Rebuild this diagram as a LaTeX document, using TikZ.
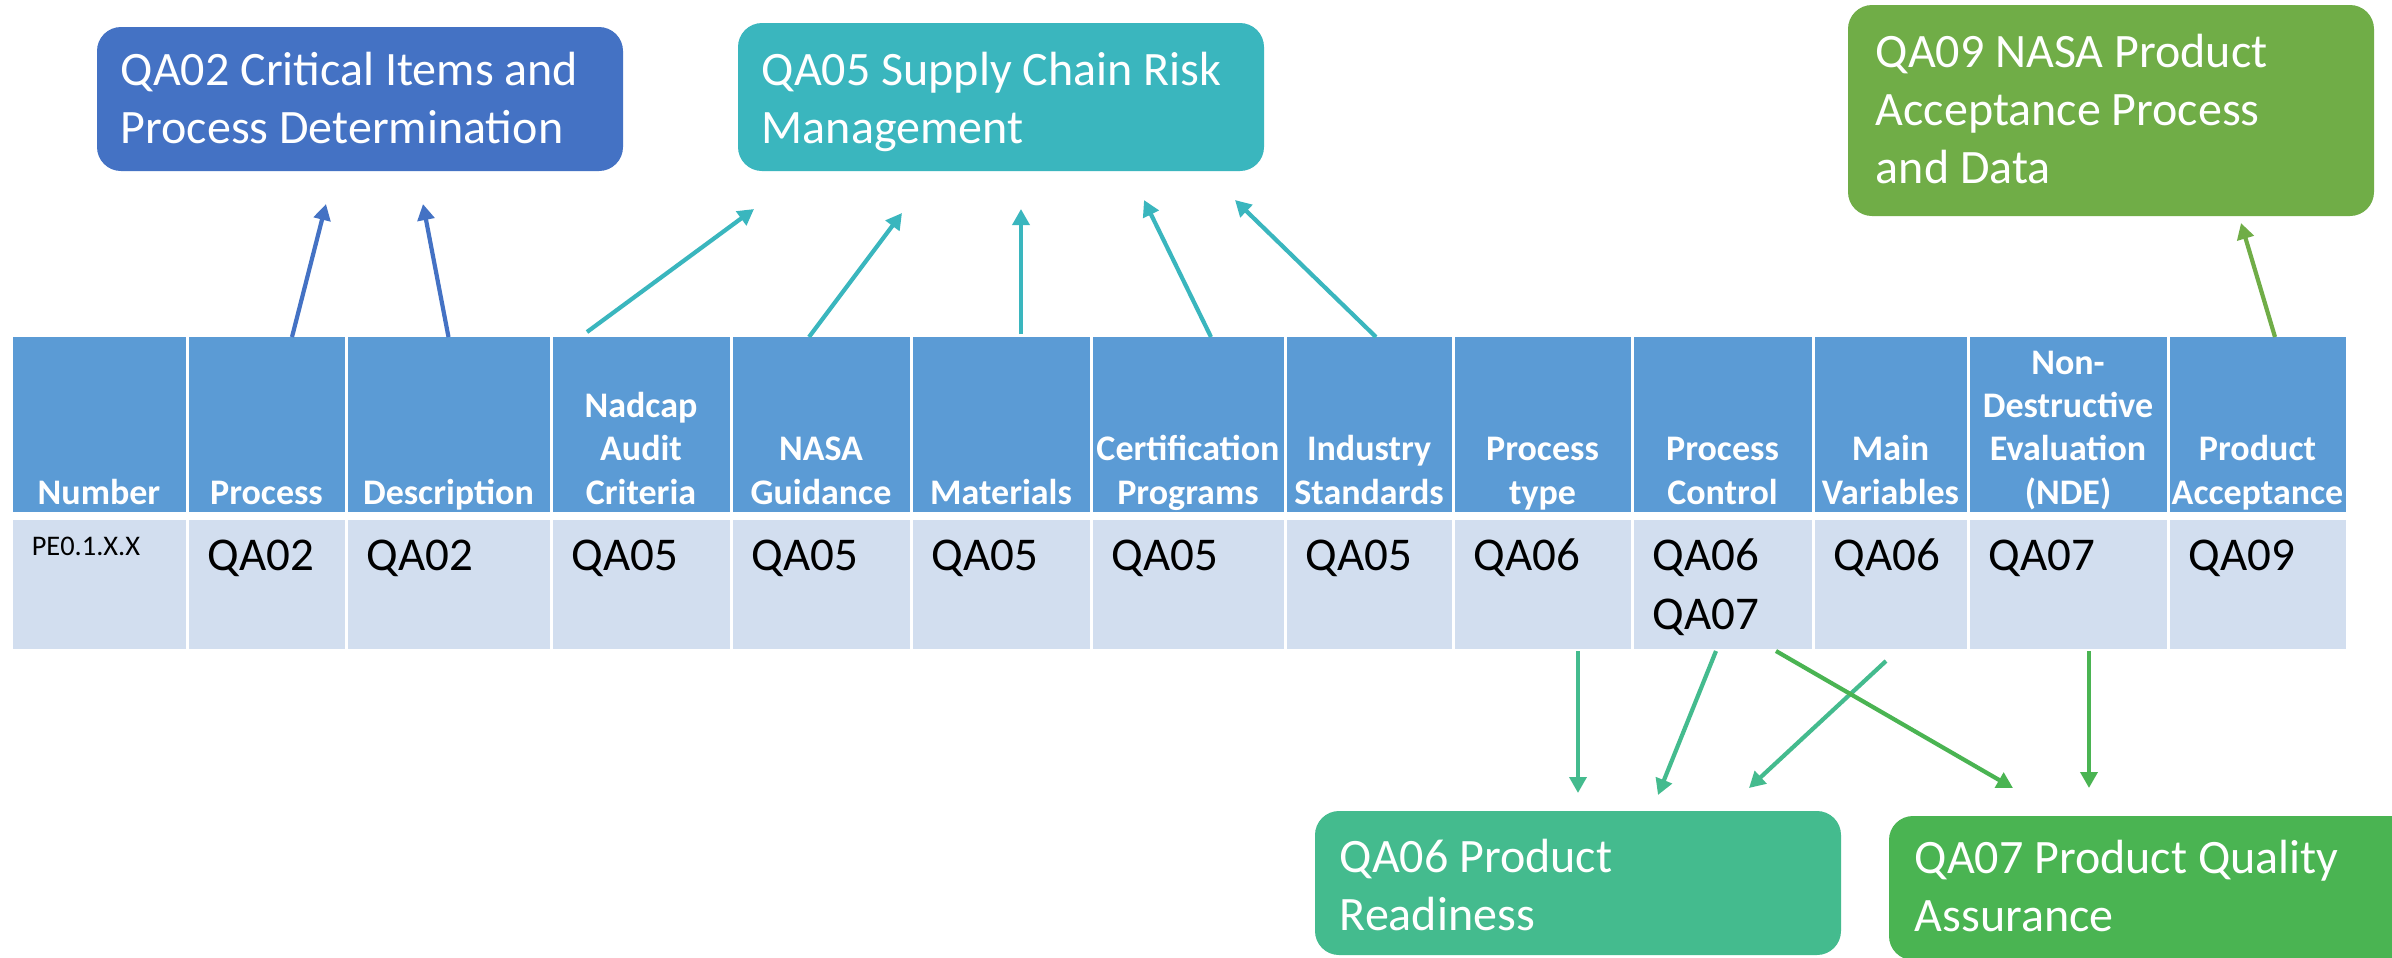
\documentclass[tikz,border=0pt]{standalone}
\usepackage{fontspec}
\setmainfont{Carlito}
\usetikzlibrary{arrows.meta,calc}
\definecolor{hdr}{HTML}{5B9BD5}
\definecolor{rowc}{HTML}{D2DEEF}
\definecolor{qatwo}{HTML}{4472C4}
\definecolor{qafive}{HTML}{3AB6BE}
\definecolor{qanine}{HTML}{70AD47}
\definecolor{qasix}{HTML}{44BB8E}
\definecolor{qaseven}{HTML}{4AB452}
\tikzset{
  hcell/.style={fill=hdr, inner sep=0pt, outer sep=0pt, anchor=north west, minimum height=175*0.25pt},
  rcell/.style={fill=rowc, inner sep=0pt, outer sep=0pt, anchor=north west, minimum height=129*0.25pt},
  htxt/.style={text=white, font=\bfseries\fontsize{9}{10.83}\selectfont, align=center, anchor=south, inner sep=0pt, execute at end node=\strut},
  dtxt/.style={text=black, font=\fontsize{11.75}{14.6}\selectfont, align=left, anchor=north west, inner sep=0pt},
  qbox/.style={rounded corners=6pt, inner sep=0pt, outer sep=0pt, anchor=north west, minimum width=526*0.25pt},
  btxt/.style={text=white, font=\fontsize{12}{14.5}\selectfont, align=left, anchor=north west, inner sep=0pt},
  conn/.style={line width=1.05pt, -{Triangle[length=4pt,width=4.2pt]}}
}
\newcommand\tblcol[5]{%
  \node[hcell, minimum width={(#3-#2-3)*0.25pt}] (h#1) at (#2+1.5,337) {};
  \node[rcell, minimum width={(#3-#2-3)*0.25pt}] (r#1) at (#2+1.5,520) {};
  \node[htxt] (ht#1) at ({(#2+#3)/2},518) {#4};
  \node[dtxt] (dt#1) at (#2+20,529.1) {\strut #5};
}
\begin{document}
\begin{tikzpicture}[x=0.25pt,y=-0.25pt]
\useasboundingbox (0,0) rectangle (2392,957);
\clip (0,0) rectangle (2392,957);
\fill[white] (0,0) rectangle (2392,957);
% table
\tblcol{1}{11}{187}{Number}{}
\tblcol{2}{187}{346}{Process}{QA02}
\tblcol{3}{346}{551}{Description}{QA02}
\tblcol{4}{551}{731}{Nadcap\\Audit\\Criteria}{QA05}
\tblcol{5}{731}{911}{NASA\\Guidance}{QA05}
\tblcol{6}{911}{1091}{Materials}{QA05}
\tblcol{7}{1091}{1285}{Certification\\Programs}{QA05}
\tblcol{8}{1285}{1453}{Industry\\Standards}{QA05}
\tblcol{9}{1453}{1632}{Process\\type}{QA06}
\tblcol{10}{1632}{1813}{Process\\Control}{QA06\\QA07}
\tblcol{11}{1813}{1968}{Main\\Variables}{QA06}
\tblcol{12}{1968}{2168}{Non-\\Destructive\\Evaluation\\(NDE)}{QA07}
\tblcol{13}{2168}{2347}{Product\\Acceptance}{QA09}
\node[dtxt, font=\fontsize{7.1}{8.5}\selectfont] (pe) at (31,531.2) {\strut PE0.1.X.X};
% boxes
\node[qbox, fill=qatwo, minimum height=144*0.25pt] (b2) at (97,27) {};
\node[btxt] (bt2) at (120,44.4) {\strut QA02 Critical Items and\\Process Determination};
\node[qbox, fill=qafive, minimum height=148*0.25pt] (b5) at (738,23) {};
\node[btxt] (bt5) at (761,44.4) {\strut QA05 Supply Chain Risk\\Management};
\node[qbox, fill=qanine, minimum height=211*0.25pt] (b9) at (1848,5) {};
\node[btxt] (bt9) at (1875,26.1) {\strut QA09 NASA Product\\Acceptance Process\\and Data};
\node[qbox, fill=qasix, minimum height=144*0.25pt] (b6) at (1315,811) {};
\node[btxt] (bt6) at (1339,831.1) {\strut QA06 Product\\Readiness};
\node[qbox, fill=qaseven, minimum height=144*0.25pt] (b7) at (1889,816) {};
\node[btxt] (bt7) at (1914,832.4) {\strut QA07 Product Quality\\Assurance};
% arrow tips
\coordinate (tA) at (326,204);
\coordinate (tB) at (423,204);
\coordinate (tC) at (754,209);
\coordinate (tD) at (902,213);
\coordinate (tE) at (1021,209);
\coordinate (tF) at (1144,200);
\coordinate (tG) at (1235,200);
\coordinate (tH) at (2241,223);
\coordinate (tI) at (1578,793);
\coordinate (tJ) at (1658,795);
\coordinate (tK) at (1749,788);
\coordinate (tL) at (2013,788);
\coordinate (tM) at (2089,788);
% connectors
\draw[conn, qatwo] ($(h2.north)+(25.5,0)$) -- (tA);
\draw[conn, qatwo] (h3.north) -- (tB);
\draw[conn, qafive] ($(h4.north)+(-54,-5)$) -- (tC);
\draw[conn, qafive] ($(h5.north)+(-12,0)$) -- (tD);
\draw[conn, qafive] ($(h6.north)+(20,-3)$) -- (tE);
\draw[conn, qafive] ($(h7.north)+(23,0)$) -- (tF);
\draw[conn, qafive] ($(h8.north)+(7,0)$) -- (tG);
\draw[conn, qanine] ($(h13.north)+(17.5,0)$) -- (tH);
\draw[conn, qasix] ($(r9.south)+(35.5,2)$) -- (tI);
\draw[conn, qasix] ($(r10.south)+(-6.5,2)$) -- (tJ);
\draw[conn, qasix] ($(r11.south)+(-4.5,12)$) -- (tK);
\draw[conn, qaseven] ($(r10.south)+(53.5,2)$) -- (tL);
\draw[conn, qaseven] ($(r12.south)+(21,2)$) -- (tM);
\end{tikzpicture}
\end{document}
